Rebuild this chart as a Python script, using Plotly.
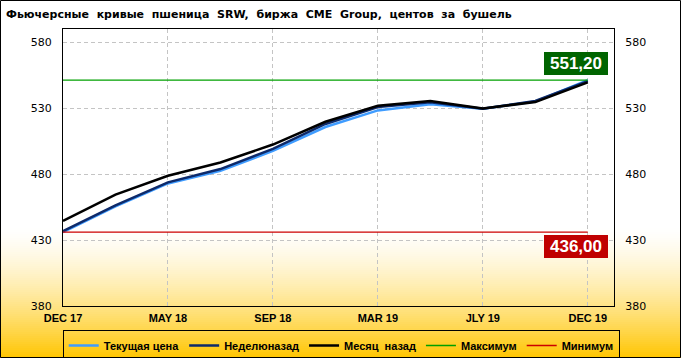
import plotly.graph_objects as go

# ---------------- data ----------------
categories = ["DEC 17", "MAR 18", "MAY 18", "JUL 18", "SEP 18", "DEC 18",
              "MAR 19", "MAY 19", "JLY 19", "SEP 19", "DEC 19"]
current_price = [436.0, 455.5, 472.9, 482.5, 497.6, 515.7, 528.3, 533.0, 529.5, 535.0, 551.2]
week_ago      = [436.8, 456.3, 473.7, 483.8, 499.1, 518.0, 530.8, 534.4, 529.5, 535.4, 550.5]
month_ago     = [444.5, 464.4, 478.7, 488.8, 502.4, 519.7, 531.8, 535.5, 529.8, 534.6, 549.5]
max_value = 551.20
min_value = 436.00
x_tick_index = [0, 2, 4, 6, 8, 10]
y_ticks = [380, 430, 480, 530, 580]
y_range = [380, 590]

# ---------------- layout geometry ----------------
W, H = 681, 358
L, R, T, B = 63, 67, 29, 52
PW, PH = W - L - R, H - T - B


def px(xpix):
    return (xpix - L) / PW


def py(ypix):
    return (H - B - ypix) / PH


x = list(range(len(categories)))
tick_text = [categories[i] for i in x_tick_index]

fig = go.Figure()
fig.add_trace(go.Scatter(x=x, y=current_price, name="Текущая цена", mode="lines",
                         line=dict(color="#3f9cff", width=2.5)))
fig.add_trace(go.Scatter(x=x, y=week_ago, name="Неделюназад", mode="lines",
                         line=dict(color="#0d2a6b", width=2.5)))
fig.add_trace(go.Scatter(x=x, y=month_ago, name="Месяц  назад", mode="lines",
                         line=dict(color="#000000", width=2.5)))
fig.add_trace(go.Scatter(x=x, y=[max_value] * len(x), name="Максимум", mode="lines",
                         line=dict(color="#00a000", width=1.3), yaxis="y2"))
fig.add_trace(go.Scatter(x=x, y=[min_value] * len(x), name="Минимум", mode="lines",
                         line=dict(color="#cc0000", width=1.3)))

# gradient background (white -> gold) made of thin bands
shapes = []
g_top, g_bot = 226, 358
n = 66
for i in range(n):
    y0 = g_top + (g_bot - g_top) * i / n
    y1 = g_top + (g_bot - g_top) * (i + 1) / n
    t = ((i + 0.5) / n) ** 1.5
    r = 255
    g = int(round(255 - t * 58))
    b = int(round(255 - t * 255))
    shapes.append(dict(type="rect", xref="paper", yref="paper",
                       x0=px(0), x1=px(W), y0=py(y1) - 0.002, y1=py(y0),
                       fillcolor=f"rgb({r},{g},{b})", line=dict(width=0), layer="below"))
# outer border
shapes.append(dict(type="rect", xref="paper", yref="paper",
                   x0=px(0.5), x1=px(W - 0.5), y0=py(H - 0.5), y1=py(0.5),
                   line=dict(color="black", width=1), fillcolor="rgba(0,0,0,0)", layer="above"))


def fmt(v):
    return f"{v:.2f}".replace(".", ",")


annotations = [
    dict(x=x[-1] - 0.23, y=max_value + 12.5, xref="x", yref="y", text=fmt(max_value),
         showarrow=False, bgcolor="#006400", width=64, height=23, borderpad=0, borderwidth=0,
         font=dict(family="Liberation Sans", size=17, color="white", weight="bold")),
    dict(x=x[-1] - 0.23, y=min_value - 11, xref="x", yref="y", text=fmt(min_value),
         showarrow=False, bgcolor="#c00000", width=64, height=23, borderpad=0, borderwidth=0,
         font=dict(family="Liberation Sans", size=17, color="white", weight="bold")),
]

axis_common = dict(range=y_range, tickvals=y_ticks, showgrid=True, gridcolor="#c4c4c4",
                   griddash="4px,3px", gridwidth=1, showline=True, linecolor="black", linewidth=1,
                   ticks="outside", ticklen=8, tickcolor="rgba(0,0,0,0)", zeroline=False,
                   automargin=False,
                   tickfont=dict(family="DejaVu Sans", size=11, color="black"), fixedrange=True)

fig.update_layout(
    width=W, height=H,
    margin=dict(l=L, r=R, t=T, b=B, pad=0, autoexpand=False),
    paper_bgcolor="white", plot_bgcolor="rgba(0,0,0,0)",
    title=dict(text="Фьючерсные  кривые  пшеница  SRW,  биржа  CME  Group,  центов  за  бушель",
               xref="container", yref="container", x=6 / W, y=1 - 14 / H,
               xanchor="left", yanchor="middle", automargin=False,
               font=dict(family="DejaVu Sans", size=11, color="black", weight="bold")),
    xaxis=dict(range=[0, 10.5], tickvals=x_tick_index, ticktext=tick_text,
               showgrid=True, gridcolor="#c4c4c4", griddash="4px,3px", gridwidth=1,
               showline=True, mirror=True, linecolor="black", linewidth=1,
               ticks="outside", ticklen=2, tickcolor="rgba(0,0,0,0)", zeroline=False,
               automargin=False, fixedrange=True,
               tickfont=dict(family="Liberation Sans", size=11, color="black", weight="bold")),
    yaxis=dict(side="left", **axis_common),
    yaxis2=dict(side="right", overlaying="y", **axis_common),
    legend=dict(orientation="h", x=-0.0005, y=py(330), xanchor="left", yanchor="top",
                bgcolor="rgba(0,0,0,0)", bordercolor="black", borderwidth=1,
                font=dict(family="Liberation Sans", size=11, color="black", weight="bold"),
                itemwidth=30, tracegroupgap=0),
    shapes=shapes,
    annotations=annotations,
    showlegend=True,
)

fig.write_html("out.html", config={"displayModeBar": False},
               post_script="document.body.style.margin='0px';document.body.style.overflow='hidden';")
